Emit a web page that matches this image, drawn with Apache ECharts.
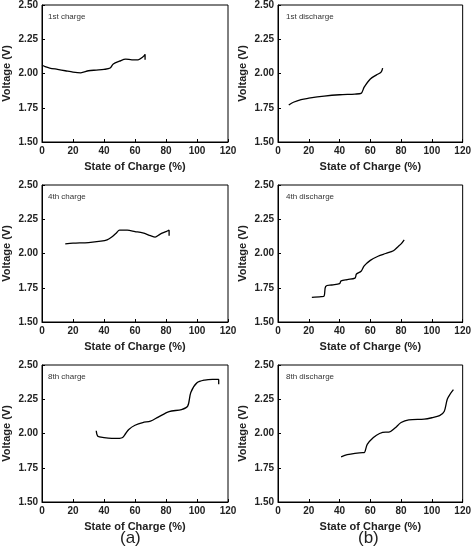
<!DOCTYPE html><html><head><meta charset="utf-8"><script src="https://cdn.jsdelivr.net/npm/echarts@6/dist/echarts.min.js"></script></head><body style="margin:0;background:#fff"><div id="c" style="width:474px;height:559px"></div><script>
const charge1=[[0,2.06],[2,2.05],[5,2.04],[10,2.03],[15,2.02],[20,2.01],[25,2.005],[30,2.02],[35,2.025],[40,2.03],[44,2.04],[46,2.07],[50,2.09],[54,2.105],[58,2.1],[62,2.1],[65,2.12],[66.5,2.14],[66.5,2.1]];
const discharge1=[[7,1.77],[10,1.79],[15,1.81],[20,1.82],[30,1.835],[40,1.845],[50,1.85],[54,1.855],[56,1.9],[60,1.96],[64,1.99],[67,2.01],[68,2.04]];
const charge4=[[15,2.07],[20,2.075],[30,2.08],[38,2.09],[42,2.1],[45,2.12],[48,2.15],[50,2.17],[55,2.17],[60,2.16],[65,2.15],[70,2.13],[73,2.12],[76,2.14],[80,2.16],[82,2.17],[82,2.13]];
const discharge4=[[22,1.68],[28,1.685],[30,1.69],[31,1.76],[35,1.77],[40,1.78],[41,1.8],[45,1.81],[50,1.82],[51,1.85],[54,1.87],[56,1.91],[60,1.95],[65,1.98],[70,2.0],[75,2.02],[78,2.05],[80,2.07],[82,2.1]];
const charge8=[[35,2.02],[36,1.98],[40,1.97],[45,1.965],[50,1.965],[52,1.97],[54,2.0],[56,2.03],[60,2.06],[65,2.08],[70,2.09],[75,2.12],[82,2.16],[90,2.175],[94,2.2],[96,2.3],[100,2.37],[105,2.39],[110,2.395],[114,2.395],[114,2.36]];
const discharge8=[[41,1.83],[45,1.845],[50,1.855],[55,1.86],[56,1.86],[58,1.92],[62,1.97],[66,2.0],[70,2.01],[72,2.01],[76,2.04],[80,2.08],[85,2.1],[95,2.105],[100,2.115],[105,2.13],[108,2.16],[110,2.25],[112,2.29],[114,2.32]];
const labels=['1st charge','1st discharge','4th charge','4th discharge','8th charge','8th discharge'];
const data=[charge1,discharge1,charge4,discharge4,charge8,discharge8];
const lefts=[40,278], tops=[5,185,365], H=137, W=188;
const grid=[],xAxis=[],yAxis=[],series=[],graphic=[];
const lab={fontFamily:'Arial',fontWeight:'bold',fontSize:10,color:'#222'};
for(let i=0;i<6;i++){const c=i%2,r=Math.floor(i/2);
grid.push({left:lefts[c],top:tops[r],width:W,height:H,show:true,borderColor:'#000',borderWidth:1});
xAxis.push({gridIndex:i,type:'value',min:0,max:120,interval:20,axisLine:{lineStyle:{color:'#000'}},axisTick:{inside:true,length:3},splitLine:{show:false},axisLabel:Object.assign({margin:4},lab),name:'State of Charge (%)',nameLocation:'middle',nameGap:19,nameTextStyle:Object.assign({},lab,{fontSize:11})});
yAxis.push({gridIndex:i,type:'value',min:1.5,max:2.5,interval:0.25,axisLine:{lineStyle:{color:'#000'}},axisTick:{inside:true,length:3},splitLine:{show:false},axisLabel:Object.assign({margin:4,formatter:v=>v.toFixed(2)},lab),name:'Voltage (V)',nameLocation:'middle',nameGap:30,nameTextStyle:Object.assign({},lab,{fontSize:11})});
series.push({type:'line',xAxisIndex:i,yAxisIndex:i,data:data[i],showSymbol:false,smooth:0.3,lineStyle:{color:'#000',width:1.3},silent:true});
graphic.push({type:'text',left:lefts[c]+8,top:tops[r]+8,style:{text:labels[i],font:'8px Arial',fill:'#333'}});}
graphic.push({type:'text',left:120,top:530,style:{text:'(a)',font:'17px Arial',fill:'#222'}});
graphic.push({type:'text',left:358,top:530,style:{text:'(b)',font:'17px Arial',fill:'#222'}});
echarts.init(document.getElementById('c')).setOption({animation:false,grid,xAxis,yAxis,series,graphic});
</script></body></html>
